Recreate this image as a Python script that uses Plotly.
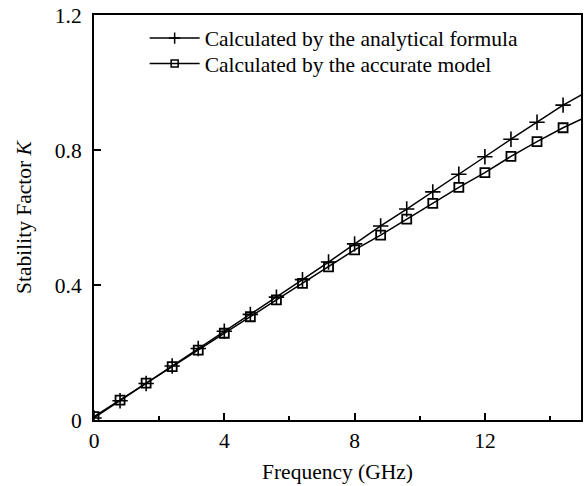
import plotly.graph_objects as go

# Frequency sample points (GHz) where markers are drawn
freq = [0.0, 0.8, 1.6, 2.4, 3.2, 4.0, 4.8, 5.6, 6.4, 7.2, 8.0, 8.8, 9.6, 10.4, 11.2, 12.0, 12.8, 13.6, 14.4]
# Stability factor K, analytical formula
k_formula = [0.006, 0.057, 0.108, 0.160, 0.212, 0.263, 0.313, 0.364, 0.416, 0.468, 0.522, 0.575, 0.625,
             0.676, 0.728, 0.780, 0.832, 0.882, 0.933]
# Stability factor K, accurate model
k_model = [0.010, 0.059, 0.109, 0.158, 0.207, 0.257, 0.306, 0.356, 0.405, 0.454, 0.504, 0.548, 0.595,
           0.642, 0.689, 0.733, 0.781, 0.825, 0.866]
# Curve continuation to the right edge of the plot
freq_end = 15.0
k_formula_end = 0.965
k_model_end = 0.893

x_ticks = [0, 4, 8, 12]
y_ticks = [0, 0.4, 0.8, 1.2]
y_tick_text = ["0", "0.4", "0.8", "1.2"]

FONT = "Liberation Serif, Times New Roman, serif"
FS = 21.5
fig = go.Figure()

fig.add_trace(go.Scatter(
    x=freq + [freq_end], y=k_formula + [k_formula_end], mode="lines",
    line=dict(color="black", width=1.5), showlegend=False, hoverinfo="skip"))
fig.add_trace(go.Scatter(
    x=freq + [freq_end], y=k_model + [k_model_end], mode="lines",
    line=dict(color="black", width=1.5), showlegend=False, hoverinfo="skip"))

fig.add_trace(go.Scatter(
    x=freq, y=k_formula, mode="markers", name="Calculated by the analytical formula",
    marker=dict(symbol="cross-thin-open", size=11, color="black",
                line=dict(color="black", width=1.6)),
    showlegend=False))
fig.add_trace(go.Scatter(
    x=freq, y=k_model, mode="markers", name="Calculated by the accurate model",
    marker=dict(symbol="square-open", size=9, color="black",
                line=dict(color="black", width=1.8)),
    showlegend=False))

# legend entries (two separate legends for exact row placement)
fig.add_trace(go.Scatter(
    x=[None], y=[None], mode="lines+markers", name="Calculated by the analytical formula",
    line=dict(color="black", width=1.5), legend="legend",
    marker=dict(symbol="cross-thin-open", size=8, color="black",
                line=dict(color="black", width=1.5))))
fig.add_trace(go.Scatter(
    x=[None], y=[None], mode="lines+markers", name="Calculated by the accurate model",
    line=dict(color="black", width=1.5), legend="legend2",
    marker=dict(symbol="square-open", size=7, color="black",
                line=dict(color="black", width=1.5))))

leg_common = dict(xanchor="left", yanchor="middle", bgcolor="rgba(0,0,0,0)",
                  font=dict(size=FS, family=FONT), itemwidth=50)

fig.update_layout(
    width=587, height=486,
    margin=dict(l=94, r=4, t=15, b=66),
    paper_bgcolor="white", plot_bgcolor="white",
    font=dict(family=FONT, size=FS, color="black"),
    legend=dict(x=0.104, y=0.943, **leg_common),
    legend2=dict(x=0.104, y=0.880, **leg_common),
    xaxis=dict(range=[0, 14.95], tickvals=x_ticks, ticks="inside", ticklen=7,
               tickwidth=1.5, tickcolor="black",
               minor=dict(dtick=2, tick0=0, ticks="inside", ticklen=4, tickwidth=1.5, tickcolor="black"),
               showline=True, linecolor="black", linewidth=2, mirror=True,
               showgrid=False, zeroline=False,
               title=dict(text="Frequency (GHz)", font=dict(size=FS), standoff=12)),
    yaxis=dict(range=[0, 1.2], tickvals=y_ticks, ticktext=y_tick_text, ticks="inside", ticklen=7,
               tickwidth=1.5, tickcolor="black", ticklabelstandoff=6,
               showline=True, linecolor="black", linewidth=2, mirror=True,
               showgrid=False, zeroline=False,
               title=dict(text="Stability Factor <i>K</i>", font=dict(size=FS), standoff=17)),
)

fig.write_html("out.html", config={"displayModeBar": False},
               post_script="document.body.style.margin='0';document.body.style.overflow='hidden';")
